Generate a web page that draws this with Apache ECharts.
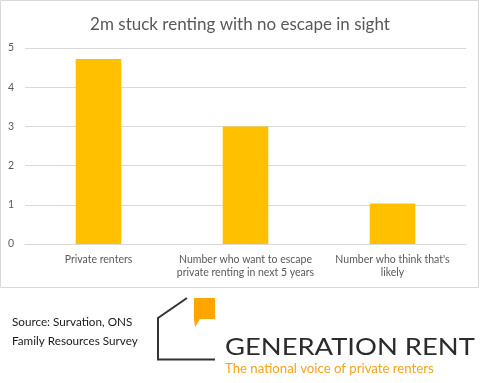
<!DOCTYPE html>
<html><head><meta charset="utf-8">
<script src="https://cdn.jsdelivr.net/npm/echarts@6/dist/echarts.min.js"></script>
<style>html,body{margin:0;padding:0;background:#fff}#c{width:480px;height:383px}</style>
</head><body><div id="c"></div>
<script>
const title = "2m stuck renting with no escape in sight";
const categories = ["Private renters", "Number who want to escape\nprivate renting in next 5 years", "Number who think that's\nlikely"];
const values = [4.72, 3.0, 1.03];
const yTicks = [0, 1, 2, 3, 4, 5];
const sourceLines = ["Source: Survation, ONS", "Family Resources Survey"];
const brandName = "GENERATION RENT";
const brandTagline = "The national voice of private renters";

const chart = echarts.init(document.getElementById('c'), null, {renderer: 'canvas'});
const font = 'Lato, "Open Sans", sans-serif';
chart.setOption({
  backgroundColor: '#fff',
  animation: false,
  title: {
    text: title, left: 'center', top: 11,
    textStyle: {fontFamily: font, fontSize: 17, fontWeight: 'normal', color: '#595959'}
  },
  grid: {left: 25, right: 14, top: 48, bottom: 139, containLabel: false},
  xAxis: {
    type: 'category', data: categories,
    axisLine: {show: true, lineStyle: {color: '#d9d9d9'}},
    axisTick: {show: false},
    axisLabel: {fontFamily: font, fontSize: 10.5, color: '#595959', margin: 9, lineHeight: 13, interval: 0}
  },
  yAxis: {
    type: 'value', min: yTicks[0], max: yTicks[yTicks.length - 1], interval: 1,
    axisLine: {show: false}, axisTick: {show: false},
    splitLine: {lineStyle: {color: '#d9d9d9'}},
    axisLabel: {fontFamily: font, fontSize: 10.5, color: '#595959', margin: 11}
  },
  series: [{
    type: 'bar', data: values, barWidth: '31%',
    itemStyle: {color: '#ffc000'}
  }],
  graphic: [
    {type: 'rect', shape: {x: 0.5, y: 0.5, width: 478, height: 287}, style: {fill: 'none', stroke: '#d9d9d9', lineWidth: 1}, z: 10},
    {type: 'text', left: 12, top: 313, style: {text: sourceLines.join('\n'), fontFamily: font, fontSize: 11.7, lineHeight: 19, fill: '#1a1a1a'}},
    {type: 'polyline', shape: {points: [[187, 298], [158, 318], [158, 359.5], [215, 359.5]]}, style: {fill: 'none', stroke: '#333', lineWidth: 2}},
    {type: 'polygon', shape: {points: [[194, 298], [215, 298], [215, 319], [200, 319], [195, 327], [194, 319]]}, style: {fill: '#ffa500'}},
    {type: 'text', x: 225, y: 335, scaleX: 1.14, style: {text: brandName, fontFamily: font, fontSize: 24, fontWeight: 'normal', fill: '#2b2b2b'}},
    {type: 'text', left: 225, top: 362, style: {text: brandTagline, fontFamily: font, fontSize: 13.2, fill: '#f5a31a'}}
  ]
});
</script></body></html>
